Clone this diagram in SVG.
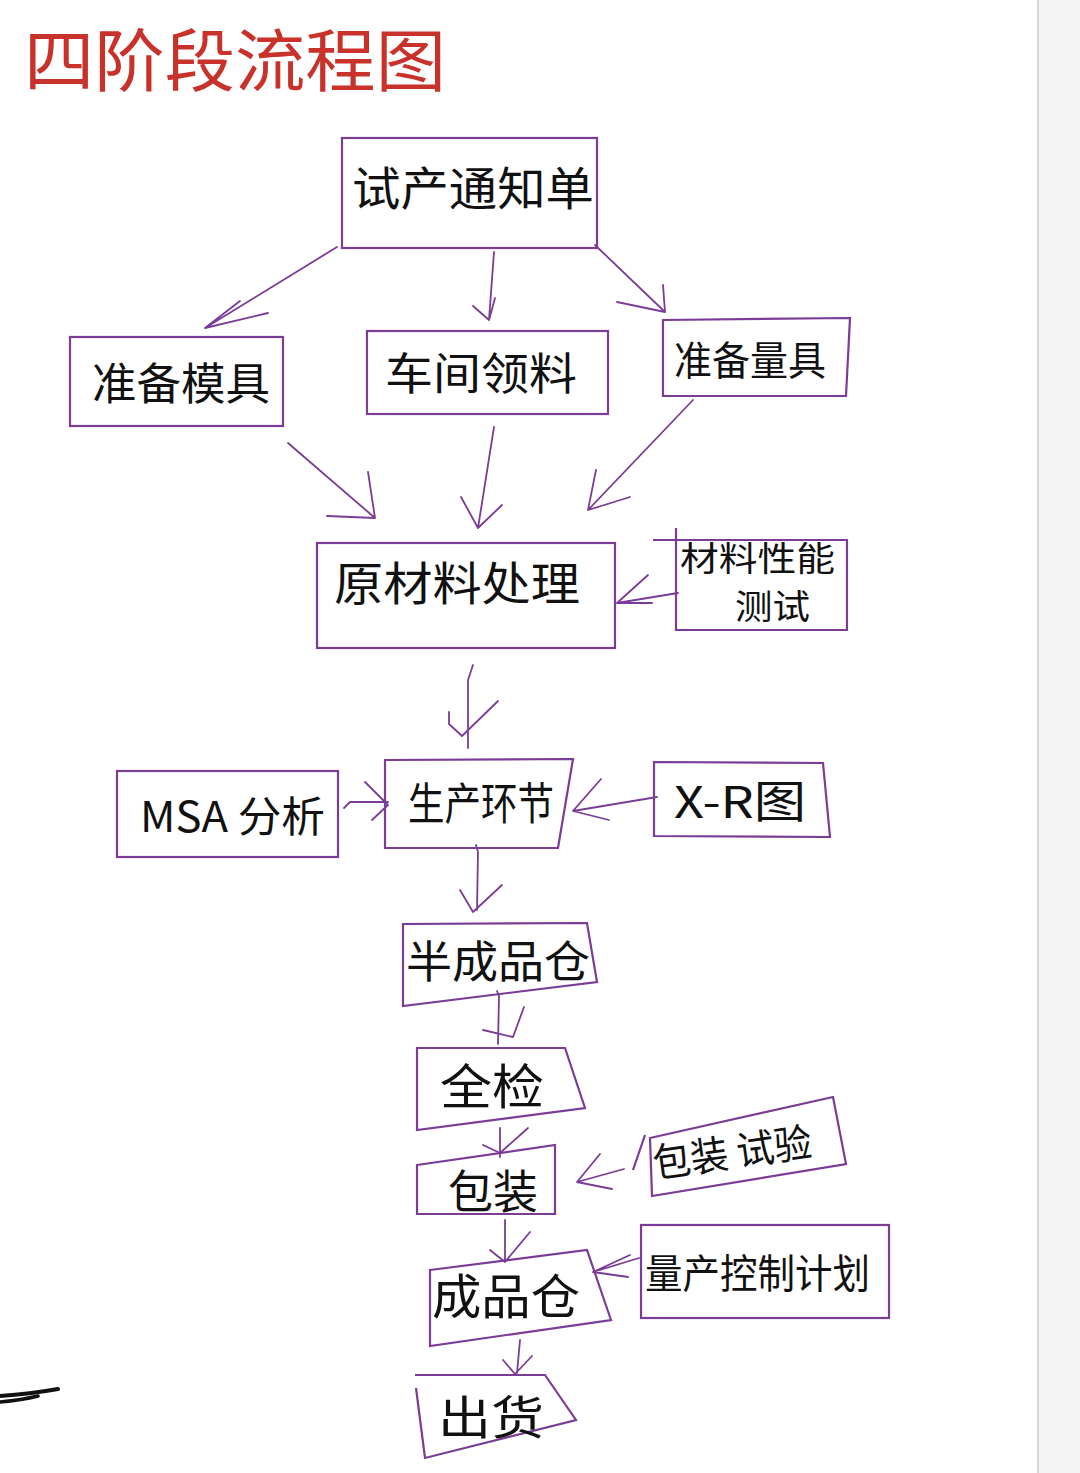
<svg xmlns="http://www.w3.org/2000/svg" width="1080" height="1473" viewBox="0 0 1080 1473">
<style>
.box{fill:none;stroke:#7a3c96;stroke-width:2.2;stroke-linejoin:miter}
.ln{fill:none;stroke:#7a3c96;stroke-width:1.8;stroke-linecap:round;stroke-linejoin:round}
.t{font-family:"Noto Sans CJK SC","Noto Sans",sans-serif;fill:#111;font-weight:400}
.title{font-family:"Noto Sans CJK SC","Noto Sans",sans-serif;fill:#c8322a;font-size:68px}
</style>
<rect x="0" y="0" width="1080" height="1473" fill="#ffffff"/>
<rect x="1037" y="0" width="43" height="1473" fill="#f4f4f4"/>
<rect x="1037" y="0" width="2" height="1473" fill="#d9d9d9"/>
<text class="title" x="24" y="86" textLength="422" lengthAdjust="spacingAndGlyphs">四阶段流程图</text>
<path d="M0 1396 Q30 1394 58 1389" fill="none" stroke="#111" stroke-width="4" stroke-linecap="round"/>
<path d="M0 1402 Q22 1400 38 1396" fill="none" stroke="#111" stroke-width="3.5" stroke-linecap="round"/>

<g id="connectors">
<path class="ln" d="M337 247 L205 328 M240 301 L205 328 L268 313"/>
<path class="ln" d="M494 252 L489 320 M473 306 L489 320 L495 298"/>
<path class="ln" d="M595 245 L665 312 M663 285 L665 312 L617 302"/>
<path class="ln" d="M288 443 L375 518 M368 472 L375 518 L327 516"/>
<path class="ln" d="M494 427 L478 528 M461 497 L478 528 L502 505"/>
<path class="ln" d="M693 400 L588 510 M596 470 L588 510 L630 497"/>
<path class="ln" d="M678 593 L617 603 M648 575 L617 603 L652 603"/>
<path class="ln" d="M473 665 L468 680 L468 748 M449 712 L449 724 L462 736 L498 701"/>
<path class="ln" d="M344 808 L350 802 L388 802 M365 782 L388 805 L372 820"/>
<path class="ln" d="M657 797 L573 811 M601 779 L573 811 L609 820"/>
<path class="ln" d="M476 845 L478 852 L477 910 M460 890 L473 912 L502 885"/>
<path class="ln" d="M497 991 L499 996 L498 1044 M483 1030 L513 1037 L524 1007"/>
<path class="ln" d="M500 1128 L500 1157 M483 1145 L500 1153 L528 1128"/>
<path class="ln" d="M624 1169 L577 1182 M600 1154 L577 1182 L612 1189"/>
<path class="ln" d="M505 1220 L505 1262 M490 1250 L505 1262 L530 1232"/>
<path class="ln" d="M639 1258 L593 1272 M630 1255 L593 1272 L628 1277"/>
<path class="ln" d="M520 1340 L517 1373 M503 1360 L515 1374 L532 1356"/>
</g>

<g id="n_trial_notice">
<rect class="box" x="342" y="138" width="255" height="110"/>
<text class="t" x="352" y="205" font-size="46" textLength="242" lengthAdjust="spacingAndGlyphs">试产通知单</text>
</g>
<g id="n_mold">
<rect class="box" x="70" y="337" width="213" height="89"/>
<text class="t" x="92" y="400" font-size="44" textLength="178" lengthAdjust="spacingAndGlyphs">准备模具</text>
</g>
<g id="n_material">
<rect class="box" x="367" y="331" width="241" height="83"/>
<text class="t" x="385" y="390" font-size="44" textLength="192" lengthAdjust="spacingAndGlyphs">车间领料</text>
</g>
<g id="n_gauge">
<path class="box" d="M663 320 L850 318 L846 396 L663 396 Z"/>
<text class="t" x="674" y="375" font-size="40" textLength="152" lengthAdjust="spacingAndGlyphs">准备量具</text>
</g>
<g id="n_raw">
<rect class="box" x="317" y="543" width="298" height="105"/>
<text class="t" x="334" y="600" font-size="46" textLength="246" lengthAdjust="spacingAndGlyphs">原材料处理</text>
</g>
<g id="n_test">
<path class="box" d="M653 540 L847 540 L847 630 L676 630 L676 528"/>
<text class="t" x="680" y="571" font-size="34" textLength="155" lengthAdjust="spacingAndGlyphs">材料性能</text>
<text class="t" x="735" y="619" font-size="34" textLength="75" lengthAdjust="spacingAndGlyphs">测试</text>
</g>
<g id="n_msa">
<rect class="box" x="117" y="771" width="221" height="86"/>
<text class="t" x="140" y="832" font-size="42" textLength="185" lengthAdjust="spacingAndGlyphs">MSA 分析</text>
</g>
<g id="n_production">
<path class="box" d="M385 760 L573 759 L558 848 L385 848 Z"/>
<text class="t" x="408" y="820" font-size="44" textLength="146" lengthAdjust="spacingAndGlyphs">生产环节</text>
</g>
<g id="n_xr">
<path class="box" d="M654 762 L823 763 L830 837 L654 836 Z"/>
<text class="t" x="674" y="818" font-size="44" textLength="132" lengthAdjust="spacingAndGlyphs">X-R图</text>
</g>
<g id="n_semi">
<path class="box" d="M403 924 L587 923 L597 982 L403 1006 Z"/>
<text class="t" x="406" y="978" font-size="44" textLength="184" lengthAdjust="spacingAndGlyphs">半成品仓</text>
</g>
<g id="n_full_check">
<path class="box" d="M417 1048 L565 1048 L585 1108 L417 1130 Z"/>
<text class="t" x="440" y="1104" font-size="48" textLength="104" lengthAdjust="spacingAndGlyphs">全检</text>
</g>
<g id="n_pack">
<path class="box" d="M417 1165 L555 1145 L555 1214 L417 1214 Z"/>
<text class="t" x="448" y="1208" font-size="46" textLength="90" lengthAdjust="spacingAndGlyphs">包装</text>
</g>
<g id="n_pack_test">
<path class="box" d="M650 1138 L833 1097 L846 1164 L652 1196 Z"/>
<path class="box" d="M645 1135 L633 1170"/>
<text class="t" x="655" y="1178" font-size="40" textLength="160" lengthAdjust="spacingAndGlyphs" transform="rotate(-8 655 1178)">包装 试验</text>
</g>
<g id="n_finished">
<path class="box" d="M430 1270 L587 1250 L611 1320 L430 1346 Z"/>
<text class="t" x="432" y="1314" font-size="48" textLength="148" lengthAdjust="spacingAndGlyphs">成品仓</text>
</g>
<g id="n_plan">
<rect class="box" x="641" y="1225" width="248" height="93"/>
<text class="t" x="645" y="1288" font-size="40" textLength="225" lengthAdjust="spacingAndGlyphs">量产控制计划</text>
</g>
<g id="n_ship">
<path class="box" d="M415 1375 L545 1375 L576 1420 L425 1458 L416 1388"/>
<text class="t" x="438" y="1434" font-size="46" textLength="106" lengthAdjust="spacingAndGlyphs">出货</text>
</g>
</svg>
